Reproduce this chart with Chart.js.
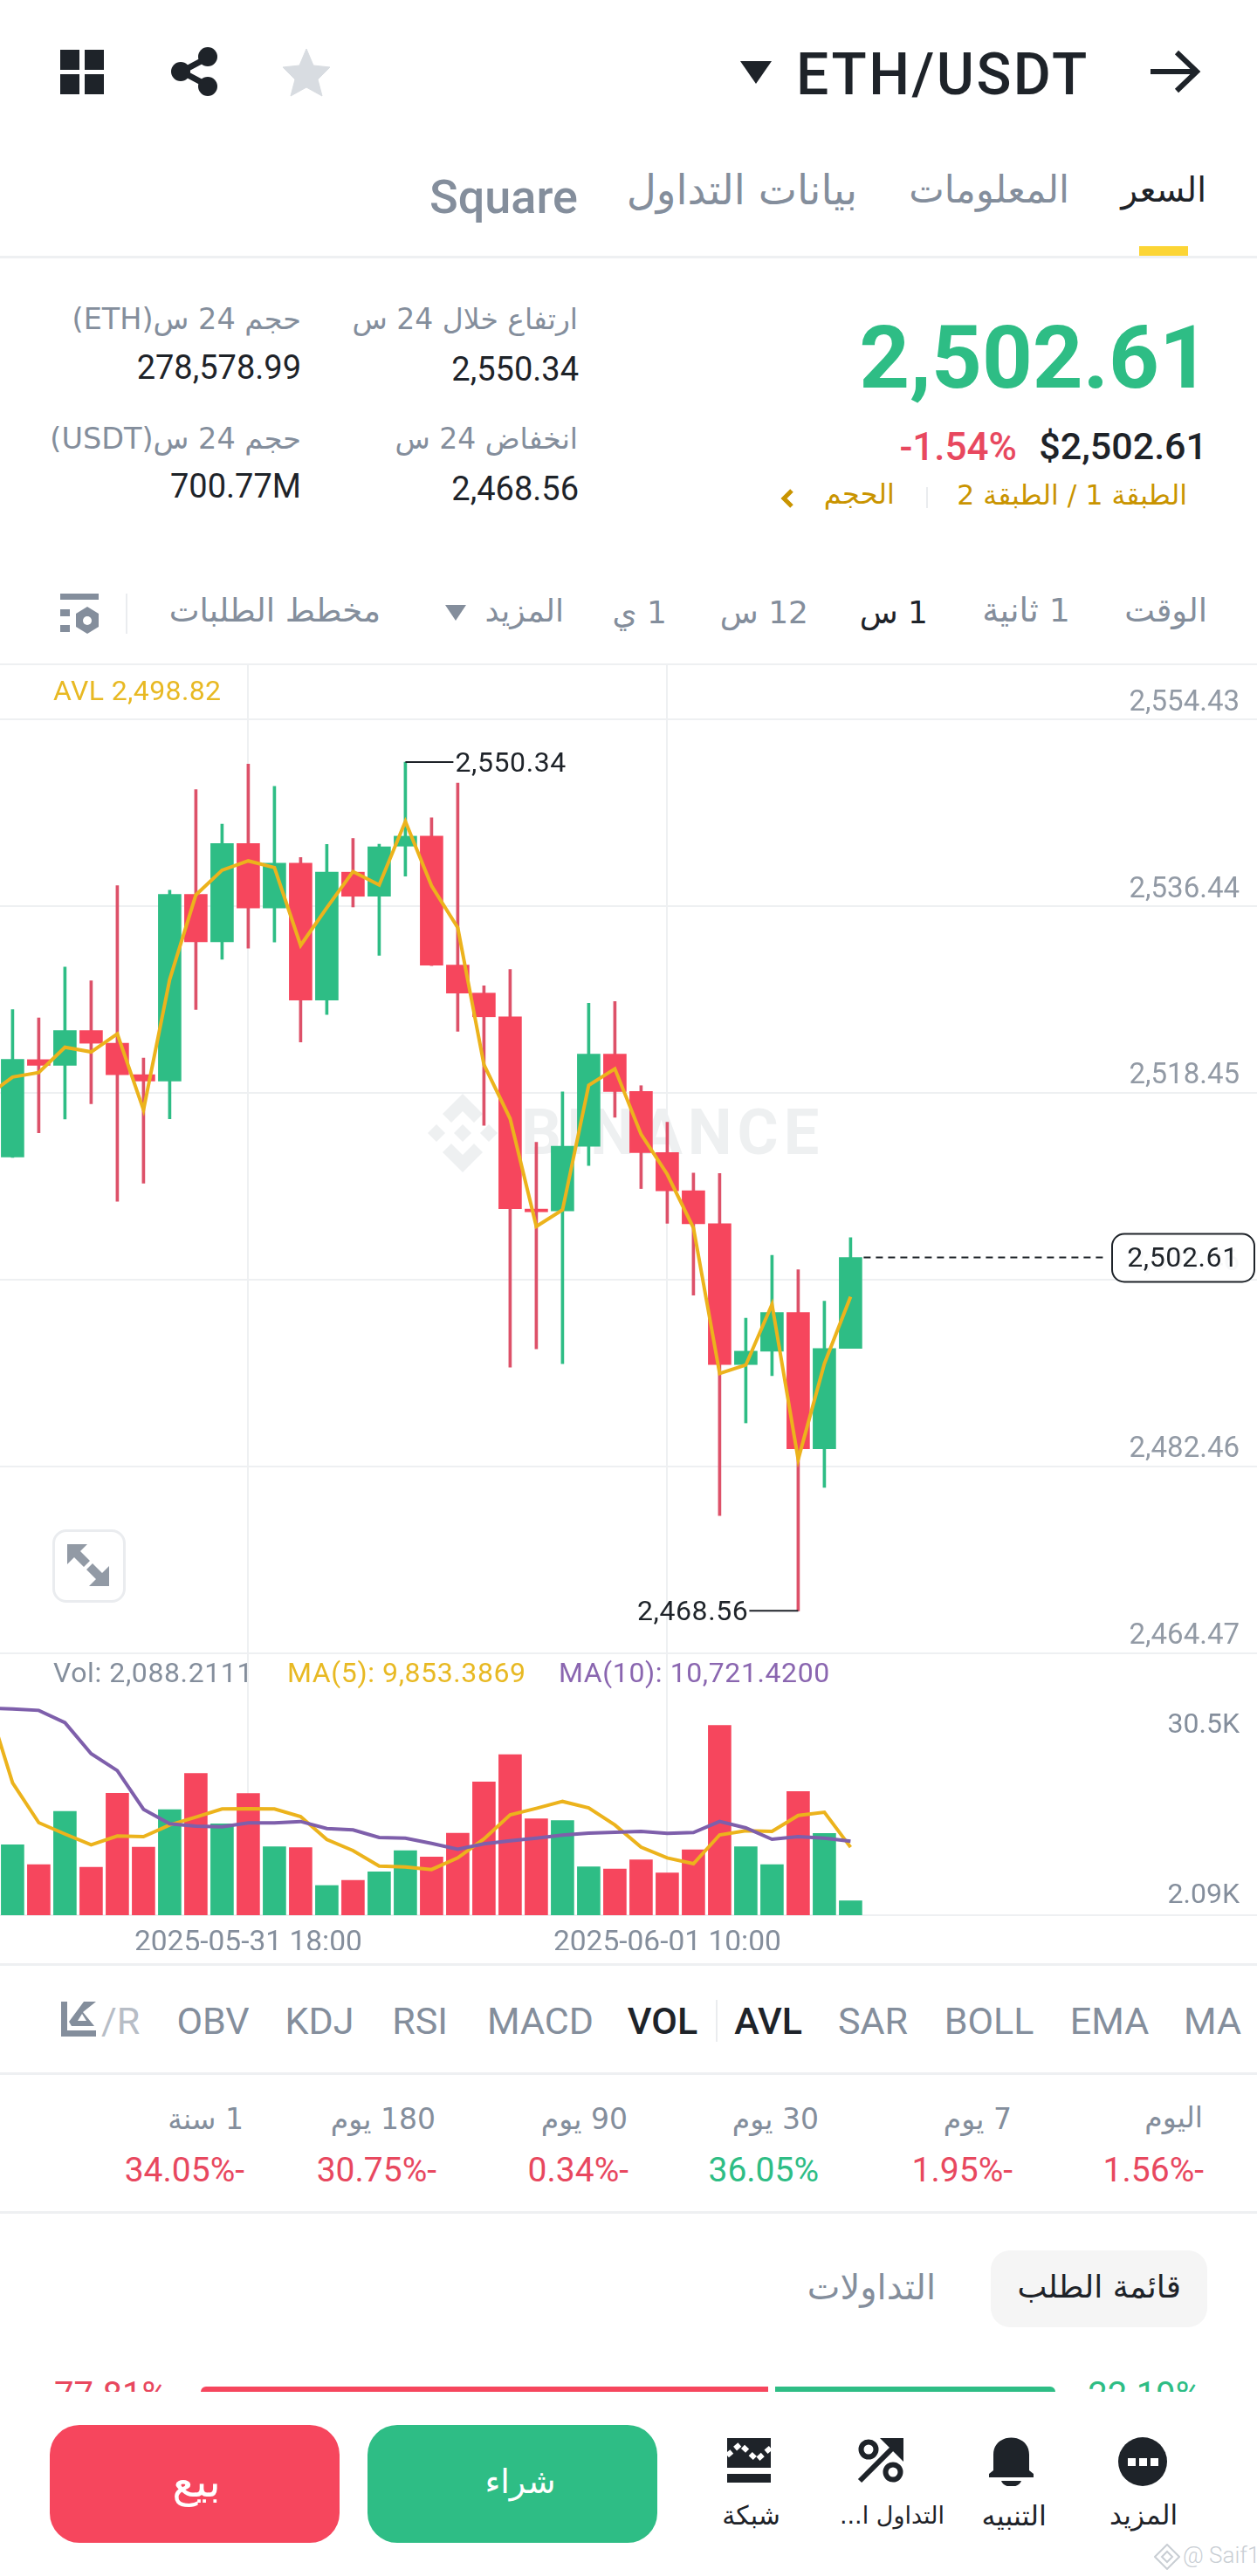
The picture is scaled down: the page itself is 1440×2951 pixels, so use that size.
<!DOCTYPE html>
<html lang="ar">
<head>
<meta charset="utf-8">
<title>ETH/USDT</title>
<script src="https://cdn.jsdelivr.net/npm/chart.js@4/dist/chart.umd.js"></script>
<style>
html, body { margin: 0; background: #fff; }
body { position: relative; width: 1440px; height: 2951px; overflow: hidden; font-family: Roboto, "DejaVu Sans", sans-serif; color: #1e2329; }
.t { position: absolute; white-space: nowrap; transform: translateY(-50%); line-height: 1.2; }
.c { transform: translate(-50%, -50%); }
.ar { font-family: "DejaVu Sans", sans-serif; direction: rtl; }
.g { color: #848e9c; }
.line { position: absolute; left: 0; width: 1440px; height: 2px; background: #eef0f2; }
svg, canvas { position: absolute; }
#priceChart { left: 0; top: 761px; z-index: 2; }
#volChart { left: 0; top: 1894px; z-index: 2; }
.wm { position: absolute; z-index: 1; }
.ind { font-size: 43px; color: #848e9c; }
.btn { position: absolute; top: 2778px; width: 332px; height: 135px; border-radius: 34px; }
.nav { font-size: 30px; }
.leg { font-size: 32px; letter-spacing: 0.6px; z-index: 3; }
</style>
</head>
<body>

<!-- header -->
<svg style="left:69px;top:57px" width="50" height="51"><rect width="22" height="23" fill="#1e2329"/><rect x="28" width="22" height="23" fill="#1e2329"/><rect y="28" width="22" height="23" fill="#1e2329"/><rect x="28" y="28" width="22" height="23" fill="#1e2329"/></svg>
<svg style="left:196px;top:54px" width="54" height="56"><path d="M42 12 L12 28 L42 44" fill="none" stroke="#1e2329" stroke-width="7"/><circle cx="42" cy="11" r="11" fill="#1e2329"/><circle cx="11" cy="28" r="11" fill="#1e2329"/><circle cx="42" cy="45" r="11" fill="#1e2329"/></svg>
<svg style="left:323px;top:55px" width="56" height="56"><path d="M28 1 L36 20 L55 22 L41 36 L46 55 L28 45 L10 55 L15 36 L1 22 L20 20 Z" fill="#d8dce1" stroke="#d8dce1" stroke-width="1" stroke-linejoin="round"/></svg>
<svg style="left:848px;top:70px" width="36" height="26"><path d="M0 0 H36 L18 26 Z" fill="#1e2329"/></svg>
<div class="t" style="left:912px;top:86px;font-size:66px;font-weight:500;letter-spacing:2.5px">ETH/USDT</div>
<svg style="left:1316px;top:56px" width="60" height="52"><path d="M2 26 H54 M32 4 L55 26 L32 48" fill="none" stroke="#1e2329" stroke-width="6"/></svg>

<div class="t ar" style="right:58px;top:218px;font-size:39px">السعر</div>
<div class="t ar g" style="right:215px;top:218px;font-size:43px">المعلومات</div>
<div class="t ar g" style="right:458px;top:218px;font-size:47px">بيانات التداول</div>
<div class="t g" style="left:492px;top:226px;font-size:54px;font-weight:500">Square</div>
<div style="position:absolute;left:1305px;top:282px;width:56px;height:12px;background:#fcd535"></div>
<div class="line" style="top:293px;height:3px"></div>

<!-- stats -->
<div class="t" style="right:54px;top:410px;font-size:101px;font-weight:700;color:#2ebd85">2,502.61</div>
<div class="t" style="right:57px;top:512px;font-size:43px;font-weight:500">$2,502.61</div>
<div class="t" style="right:275px;top:512px;font-size:44px;font-weight:500;color:#e8485f">-1.54%</div>
<div class="t ar" style="right:80px;top:568px;font-size:31.5px;color:#c99400">الطبقة 1 / الطبقة 2</div>
<div style="position:absolute;left:1061px;top:558px;width:2px;height:24px;background:#eaecef"></div>
<div class="t ar" style="right:415px;top:566px;font-size:32px;color:#c99400">الحجم</div>
<svg style="left:893px;top:559px" width="18" height="24"><path d="M14 3 L5 12 L14 21" fill="none" stroke="#c99400" stroke-width="5"/></svg>

<div class="t ar g" style="right:778px;top:366px;font-size:33px">ارتفاع خلال 24 س</div>
<div class="t" style="right:777px;top:424px;font-size:38px">2,550.34</div>
<div class="t ar g" style="right:778px;top:503px;font-size:33px">انخفاض 24 س</div>
<div class="t" style="right:777px;top:561px;font-size:38px">2,468.56</div>
<div class="t ar g" style="right:1095px;top:366px;font-size:33.5px">حجم 24 س(ETH)</div>
<div class="t" style="right:1095px;top:422px;font-size:38px">278,578.99</div>
<div class="t ar g" style="right:1095px;top:503px;font-size:33.5px">حجم 24 س(USDT)</div>
<div class="t" style="right:1095px;top:558px;font-size:38px">700.77M</div>

<!-- interval bar -->
<div class="t ar g" style="right:57px;top:700px;font-size:37px">الوقت</div>
<div class="t ar g" style="right:214px;top:700px;font-size:38px">1 ثانية</div>
<div class="t ar" style="right:377px;top:702px;font-size:36px">1 س</div>
<div class="t ar g" style="right:514px;top:702px;font-size:36px">12 س</div>
<div class="t ar g" style="right:676px;top:702px;font-size:36px">1 ي</div>
<div class="t ar g" style="right:794px;top:700px;font-size:36px">المزيد</div>
<svg style="left:510px;top:693px" width="24" height="18"><path d="M0 0 H24 L12 18 Z" fill="#848e9c"/></svg>
<div class="t ar g" style="right:1004px;top:700px;font-size:37px">مخطط الطلبات</div>
<div style="position:absolute;left:144px;top:680px;width:2px;height:46px;background:#eaecef"></div>
<svg style="left:69px;top:680px" width="44" height="46"><rect width="44" height="7" fill="#848e9c"/><rect y="18" width="11" height="8" fill="#848e9c"/><rect y="36" width="11" height="8" fill="#848e9c"/><path d="M31 15 L44 23 V38 L31 46 L18 38 V23 Z" fill="#848e9c"/><circle cx="31" cy="31" r="5" fill="#fff"/></svg>
<div class="line" style="top:760px"></div>

<!-- chart panes -->
<svg class="wm" style="left:487px;top:1253px;z-index:1" width="86" height="90" viewBox="0 0 86 90"><g fill="#eef0f1"><path d="M43 0 L66 23 L56 33 L43 20 L30 33 L20 23 Z"/><path d="M43 90 L66 67 L56 57 L43 70 L30 57 L20 67 Z"/><path d="M13 35 L23 45 L13 55 L3 45 Z"/><path d="M73 35 L83 45 L73 55 L63 45 Z"/><path d="M43 35 L53 45 L43 55 L33 45 Z"/></g></svg>
<div class="t wm" style="left:597px;top:1298px;font-size:72px;font-weight:700;letter-spacing:6px;color:#eef0f1">BINANCE</div>
<canvas id="priceChart" width="1440" height="1139" style="width:1440px;height:1139px"></canvas>
<div class="t leg" style="left:61px;top:791px;color:#e8b923;letter-spacing:0.4px">AVL 2,498.82</div>
<div style="position:absolute;left:60px;top:1752px;width:78px;height:78px;border:3px solid #eaecef;border-radius:16px;background:#fff;z-index:3"></div>
<svg style="left:77px;top:1769px;z-index:4" width="48" height="48"><path d="M0 0 H23 L15 8 L26 19 L19 26 L8 15 L0 23 Z M48 48 H25 L33 40 L22 29 L29 22 L40 33 L48 25 Z" fill="#929aa5"/></svg>

<canvas id="volChart" width="1440" height="340" style="width:1440px;height:340px"></canvas>
<div class="line" style="top:2193px;z-index:1"></div>
<div class="t g leg" style="left:61px;top:1916px">Vol: 2,088.2111</div>
<div class="t leg" style="left:329px;top:1916px;color:#e8b923">MA(5): 9,853.3869</div>
<div class="t leg" style="left:640px;top:1916px;color:#8a66b0">MA(10): 10,721.4200</div>

<!-- indicators -->
<div class="line" style="top:2249px;height:3px"></div>
<svg style="left:70px;top:2293px" width="40" height="40"><path d="M0 0 H7 V33 H40 V40 H0 Z M9 23 L26 0 L40 0 L25 12 L38 28 H12 Z" fill="#848e9c"/><path d="M24 14 L29 22 H19 Z" fill="#fff"/></svg>
<div class="t ind" style="left:116px;top:2316px;color:#b7bdc6">/R</div>
<div class="t c ind" style="left:244px;top:2316px">OBV</div>
<div class="t c ind" style="left:366px;top:2316px">KDJ</div>
<div class="t c ind" style="left:481px;top:2316px">RSI</div>
<div class="t c ind" style="left:619px;top:2316px">MACD</div>
<div class="t c ind" style="left:759px;top:2316px;color:#1e2329;font-weight:500">VOL</div>
<div style="position:absolute;left:820px;top:2291px;width:2px;height:48px;background:#eaecef"></div>
<div class="t c ind" style="left:880px;top:2316px;color:#1e2329;font-weight:500">AVL</div>
<div class="t c ind" style="left:1000px;top:2316px">SAR</div>
<div class="t c ind" style="left:1133px;top:2316px">BOLL</div>
<div class="t c ind" style="left:1271px;top:2316px">EMA</div>
<div class="t c ind" style="left:1389px;top:2316px">MA</div>
<div class="line" style="top:2374px;height:3px"></div>

<!-- period changes -->
<div class="t ar g" style="right:62px;top:2426px;font-size:33px">اليوم</div>
<div class="t ar g" style="right:281px;top:2428px;font-size:33px">7 يوم</div>
<div class="t ar g" style="right:502px;top:2428px;font-size:33px">30 يوم</div>
<div class="t ar g" style="right:721px;top:2428px;font-size:33px">90 يوم</div>
<div class="t ar g" style="right:941px;top:2428px;font-size:33px">180 يوم</div>
<div class="t ar g" style="right:1161px;top:2428px;font-size:33px">1 سنة</div>
<div class="t" style="right:61px;top:2486px;font-size:39px;color:#e8485f">1.56%-</div>
<div class="t" style="right:280px;top:2486px;font-size:39px;color:#e8485f">1.95%-</div>
<div class="t" style="right:502px;top:2486px;font-size:39px;color:#2ebd85">36.05%</div>
<div class="t" style="right:720px;top:2486px;font-size:39px;color:#e8485f">0.34%-</div>
<div class="t" style="right:940px;top:2486px;font-size:39px;color:#e8485f">30.75%-</div>
<div class="t" style="right:1160px;top:2486px;font-size:39px;color:#e8485f">34.05%-</div>
<div class="line" style="top:2533px;height:3px"></div>

<!-- order book tabs -->
<div style="position:absolute;left:1135px;top:2578px;width:248px;height:88px;border-radius:22px;background:#f5f5f5"></div>
<div class="t ar" style="right:87px;top:2620px;font-size:36px">قائمة الطلب</div>
<div class="t ar g" style="right:368px;top:2620px;font-size:40px">التداولات</div>

<!-- ratio, cut by the footer -->
<div style="position:absolute;left:0;top:2700px;width:1440px;height:40px;overflow:hidden">
  <div class="t" style="left:62px;top:44px;font-size:40px;color:#e8485f">77.81%</div>
  <div class="t" style="right:64px;top:44px;font-size:40px;color:#2ebd85">22.19%</div>
  <div style="position:absolute;left:230px;top:34px;width:650px;height:14px;background:#f6465d;border-radius:6px 0 0 0"></div>
  <div style="position:absolute;left:888px;top:34px;width:321px;height:14px;background:#2ebd85;border-radius:0 6px 0 0"></div>
</div>

<!-- footer -->
<div class="btn" style="left:57px;background:#f6465d"></div>
<div class="t c ar" style="left:225px;top:2843px;font-size:50px;color:#fff">بيع</div>
<div class="btn" style="left:421px;background:#2ebd85"></div>
<div class="t c ar" style="left:596px;top:2844px;font-size:38px;color:#fff">شراء</div>

<svg style="left:833px;top:2793px" width="50" height="51"><path d="M0 0 H50 V34 H0 Z" fill="#1e2329"/><rect y="41" width="50" height="10" fill="#1e2329"/><path d="M0 20 L15 7 L34 25 L50 11" fill="none" stroke="#fff" stroke-width="6" stroke-dasharray="7 5"/></svg>
<svg style="left:982px;top:2793px" width="54" height="52"><circle cx="13" cy="13" r="8.5" fill="none" stroke="#1e2329" stroke-width="6"/><circle cx="41" cy="39" r="8.5" fill="none" stroke="#1e2329" stroke-width="6"/><path d="M3 49 L47 5" stroke="#1e2329" stroke-width="6"/><path d="M26 0 H53 V27 Z" fill="#1e2329"/></svg>
<svg style="left:1133px;top:2792px" width="51" height="56"><path d="M5 38 V20 C5 -6 46 -6 46 20 V38 L51 42 V46 H0 V42 Z" fill="#1e2329"/><path d="M14 50 H37 C34 59 17 59 14 50 Z" fill="#1e2329"/></svg>
<svg style="left:1281px;top:2792px" width="56" height="56"><circle cx="28" cy="28" r="28" fill="#1e2329"/><rect x="11" y="24" width="9" height="9" fill="#fff"/><rect x="24" y="24" width="9" height="9" fill="#fff"/><rect x="37" y="24" width="9" height="9" fill="#fff"/></svg>
<div class="t ar nav" style="right:546px;top:2882px">شبكة</div>
<div class="t ar nav" style="right:358px;top:2882px;font-size:27px">التداول ا...</div>
<div class="t ar nav" style="right:241px;top:2882px;font-size:32px">التنبيه</div>
<div class="t ar nav" style="right:91px;top:2882px;font-size:31px">المزيد</div>
<svg style="left:1322px;top:2914px" width="30" height="30"><path d="M15 1 L29 15 L15 29 L1 15 Z M15 9 L21 15 L15 21 L9 15 Z" fill="none" stroke="#c9ced4" stroke-width="2"/></svg>
<div class="t" style="left:1355px;top:2928px;font-size:26px;color:#c9ced4;font-weight:300">@ Saif1</div>

<script>
// hourly candles
const candleOpen = [2512.30, 2521.67, 2521.12, 2524.47, 2523.25, 2520.22, 2519.61, 2537.60, 2533.03, 2542.49, 2536.28, 2540.60, 2527.40, 2539.73, 2537.41, 2542.24, 2543.20, 2530.78, 2528.08, 2525.80, 2507.27, 2507.10, 2513.32, 2522.21, 2518.60, 2512.72, 2509.03, 2505.86, 2492.29, 2493.58, 2497.31, 2484.18, 2493.84];
const candleHigh = [2526.50, 2525.69, 2530.59, 2529.27, 2538.44, 2521.83, 2537.99, 2547.68, 2544.36, 2550.15, 2548.00, 2541.14, 2542.40, 2542.98, 2542.43, 2550.34, 2544.97, 2548.32, 2528.78, 2530.36, 2513.71, 2518.56, 2527.10, 2527.27, 2519.16, 2515.64, 2510.75, 2510.70, 2496.76, 2502.81, 2501.43, 2498.39, 2504.52];
const candleLow = [2512.24, 2514.62, 2515.94, 2517.42, 2508.03, 2509.77, 2515.97, 2526.50, 2531.33, 2532.42, 2533.00, 2523.38, 2526.02, 2536.38, 2531.71, 2539.34, 2530.72, 2524.41, 2515.34, 2492.04, 2493.80, 2492.38, 2511.48, 2516.11, 2509.25, 2505.90, 2498.99, 2477.74, 2486.67, 2491.22, 2468.56, 2480.45, 2493.84];
const candleClose = [2521.70, 2521.12, 2524.47, 2523.25, 2520.22, 2519.61, 2537.60, 2533.03, 2542.49, 2536.28, 2540.60, 2527.40, 2539.73, 2537.41, 2542.17, 2543.20, 2530.78, 2528.08, 2525.80, 2507.31, 2507.01, 2513.32, 2522.21, 2518.60, 2512.72, 2509.03, 2505.86, 2492.29, 2493.58, 2497.31, 2484.18, 2493.84, 2502.61];
const volume = [10210, 7341, 15062, 6961, 17678, 9872, 15315, 20547, 13248, 17635, 9915, 9788, 4303, 5063, 6286, 9366, 8438, 11898, 19323, 23289, 13965, 13712, 7004, 6708, 8016, 6118, 9493, 27508, 9915, 7341, 17931, 11855, 2088.21];

// these three start one candle before the visible ones, so the lines enter from the left edge
const avlLine = [2518.13, 2519.99, 2520.42, 2522.86, 2522.41, 2524.15, 2516.84, 2529.39, 2537.54, 2539.92, 2540.82, 2540.17, 2532.68, 2536.31, 2539.79, 2538.50, 2544.62, 2538.41, 2534.38, 2521.19, 2515.98, 2505.60, 2507.19, 2519.20, 2520.79, 2514.48, 2510.62, 2505.47, 2491.43, 2492.25, 2498.09, 2483.15, 2492.38, 2498.82];
const ma5Line = [31432, 19196, 13416, 11771, 10210, 11476, 11391, 13079, 14218, 15399, 15442, 15399, 14302, 10969, 9366, 7130, 7004, 6624, 8311, 11054, 14556, 15484, 16496, 15568, 13079, 9872, 8311, 7468, 11645, 12235, 12151, 14471, 14935, 9853.39];
const ma10Line = [30039, 29913, 29702, 27930, 23415, 20968, 15357, 13248, 12910, 12826, 13374, 13374, 13585, 12573, 12362, 11265, 11180, 10421, 9577, 10337, 10801, 11180, 11602, 11898, 12024, 12151, 11855, 11982, 13585, 12657, 11012, 11391, 11180, 10721.42];

const priceTicks = [2554.43, 2536.44, 2518.45, 2500.46, 2482.46, 2464.47];
const xTickIndex = [9, 25];
const xTickLabels = ['2025-05-31 18:00', '2025-06-01 10:00'];
const volTickValues = [27470, 2785];
const volTickLabels = ['30.5K', '2.09K'];

const RED = '#f6465d', GREEN = '#2ebd85', YELLOW = '#ecb31c', PURPLE = '#7e5fab', GRID = '#eef0f2';
const FONT = 'Roboto';
const fmt = v => v.toLocaleString('en-US', { minimumFractionDigits: 2, maximumFractionDigits: 2 });
const candleColors = candleClose.map((c, i) => (c >= candleOpen[i] ? GREEN : RED));
const lineData = arr => arr.map((v, i) => ({ x: i - 1, y: v }));

// x is a plain candle number: 30px per candle on the 1440px canvas
const xRange = { min: -0.48, max: 47.52 };

// the axes sit inside the plot, so they must not reserve any room or padding
const noRoom = (s, w, h) => {
    if (w !== undefined) s.width = w;
    if (h !== undefined) s.height = h;
    s.paddingLeft = s.paddingRight = s.paddingTop = s.paddingBottom = 0;
};

Chart.defaults.animation = false;
Chart.defaults.responsive = false;
Chart.defaults.devicePixelRatio = 1;
Chart.defaults.font.family = FONT;

// high, low and last price call-outs
const callouts = {
    id: 'callouts',
    afterDatasetsDraw(chart) {
        const { ctx, scales: { x, y } } = chart;
        const hiIdx = candleHigh.indexOf(Math.max(...candleHigh));
        const loIdx = candleLow.indexOf(Math.min(...candleLow));
        const last = candleClose[candleClose.length - 1];
        ctx.save();
        ctx.font = '32px ' + FONT;
        ctx.letterSpacing = '0.6px';
        ctx.fillStyle = '#1e2329';
        ctx.strokeStyle = '#1e2329';
        ctx.textBaseline = 'middle';
        ctx.lineWidth = 2;

        const hiX = x.getPixelForValue(hiIdx), hiY = y.getPixelForValue(candleHigh[hiIdx]);
        ctx.beginPath(); ctx.moveTo(hiX, hiY); ctx.lineTo(hiX + 55, hiY); ctx.stroke();
        ctx.textAlign = 'left';
        ctx.fillText(fmt(candleHigh[hiIdx]), hiX + 57, hiY + 3);

        const loX = x.getPixelForValue(loIdx), loY = y.getPixelForValue(candleLow[loIdx]);
        ctx.beginPath(); ctx.moveTo(loX, loY); ctx.lineTo(loX - 56, loY); ctx.stroke();
        ctx.textAlign = 'right';
        ctx.fillText(fmt(candleLow[loIdx]), loX - 57, loY + 3);

        const lastX = x.getPixelForValue(candleClose.length - 1), lastY = y.getPixelForValue(last);
        ctx.setLineDash([8, 6]);
        ctx.beginPath(); ctx.moveTo(lastX + 15, lastY); ctx.lineTo(1268, lastY); ctx.stroke();
        ctx.setLineDash([]);
        ctx.beginPath();
        ctx.roundRect(1274, lastY - 27, 163, 55, 14);
        ctx.fillStyle = 'rgba(255,255,255,0.93)';
        ctx.fill();
        ctx.stroke();
        ctx.fillStyle = '#1e2329';
        ctx.textAlign = 'center';
        ctx.fillText(fmt(last), 1355, lastY + 2);
        ctx.restore();
    }
};

new Chart(document.getElementById('priceChart'), {
    type: 'bar',
    data: {
        datasets: [
            { type: 'line', data: lineData(avlLine), borderColor: YELLOW, borderWidth: 4, pointRadius: 0, tension: 0, order: 0 },
            { data: candleClose.map((c, i) => ({ x: i, y: [candleOpen[i], c] })), backgroundColor: candleColors, barThickness: 26, grouped: false, order: 1 },
            { data: candleClose.map((c, i) => ({ x: i, y: [candleLow[i], candleHigh[i]] })), backgroundColor: candleColors.map(c => (c === RED ? '#dd5169' : GREEN)), barThickness: 3, grouped: false, order: 2 }
        ]
    },
    plugins: [callouts],
    options: {
        layout: { padding: 0 },
        plugins: { legend: { display: false }, tooltip: { enabled: false } },
        scales: {
            x: {
                type: 'linear', offset: false, min: xRange.min, max: xRange.max,
                afterBuildTicks: s => { s.ticks = xTickIndex.map(v => ({ value: v })); },
                afterFit: s => noRoom(s, undefined, 6),
                grid: { color: GRID, lineWidth: 2, offset: false, drawTicks: false },
                border: { display: false },
                ticks: { display: false }
            },
            y: {
                position: 'right', beginAtZero: false, min: 2464.47, max: 2559.76,
                afterBuildTicks: s => { s.ticks = priceTicks.map(v => ({ value: v })); },
                afterFit: s => noRoom(s, 0),
                grid: { color: GRID, lineWidth: 2, drawTicks: false },
                border: { display: false },
                // a mirrored right axis counts padding from its left side, which is the canvas edge here
                ticks: { mirror: true, padding: -20, labelOffset: -19, autoSkip: false, color: '#929aa5', font: { size: 33 }, callback: v => fmt(v) }
            }
        }
    }
});

new Chart(document.getElementById('volChart'), {
    type: 'bar',
    data: {
        datasets: [
            { type: 'line', data: lineData(ma10Line), borderColor: PURPLE, borderWidth: 4, pointRadius: 0, tension: 0, order: 0 },
            { type: 'line', data: lineData(ma5Line), borderColor: YELLOW, borderWidth: 4, pointRadius: 0, tension: 0, order: 1 },
            { data: volume.map((v, i) => ({ x: i, y: v })), backgroundColor: candleColors, barThickness: 26, order: 2 }
        ]
    },
    options: {
        layout: { padding: 0 },
        plugins: { legend: { display: false }, tooltip: { enabled: false } },
        scales: {
            x: {
                type: 'linear', offset: false, min: xRange.min, max: xRange.max,
                afterBuildTicks: s => { s.ticks = xTickIndex.map(v => ({ value: v })); },
                afterFit: s => noRoom(s, undefined, 40),
                grid: { color: GRID, lineWidth: 2, offset: false, drawTicks: false },
                border: { display: false },
                ticks: { autoSkip: false, maxRotation: 0, padding: 13, color: '#848e9c', font: { size: 33.5 }, callback: v => xTickLabels[xTickIndex.indexOf(v)] }
            },
            y: {
                position: 'right', min: 0, max: 37975,
                afterBuildTicks: s => { s.ticks = volTickValues.map(v => ({ value: v })); },
                afterFit: s => noRoom(s, 0),
                grid: { display: false },
                border: { display: false },
                ticks: { mirror: true, padding: -20, autoSkip: false, color: '#848e9c', font: { size: 32 }, callback: v => volTickLabels[volTickValues.indexOf(v)] }
            }
        }
    }
});
</script>
</body>
</html>
